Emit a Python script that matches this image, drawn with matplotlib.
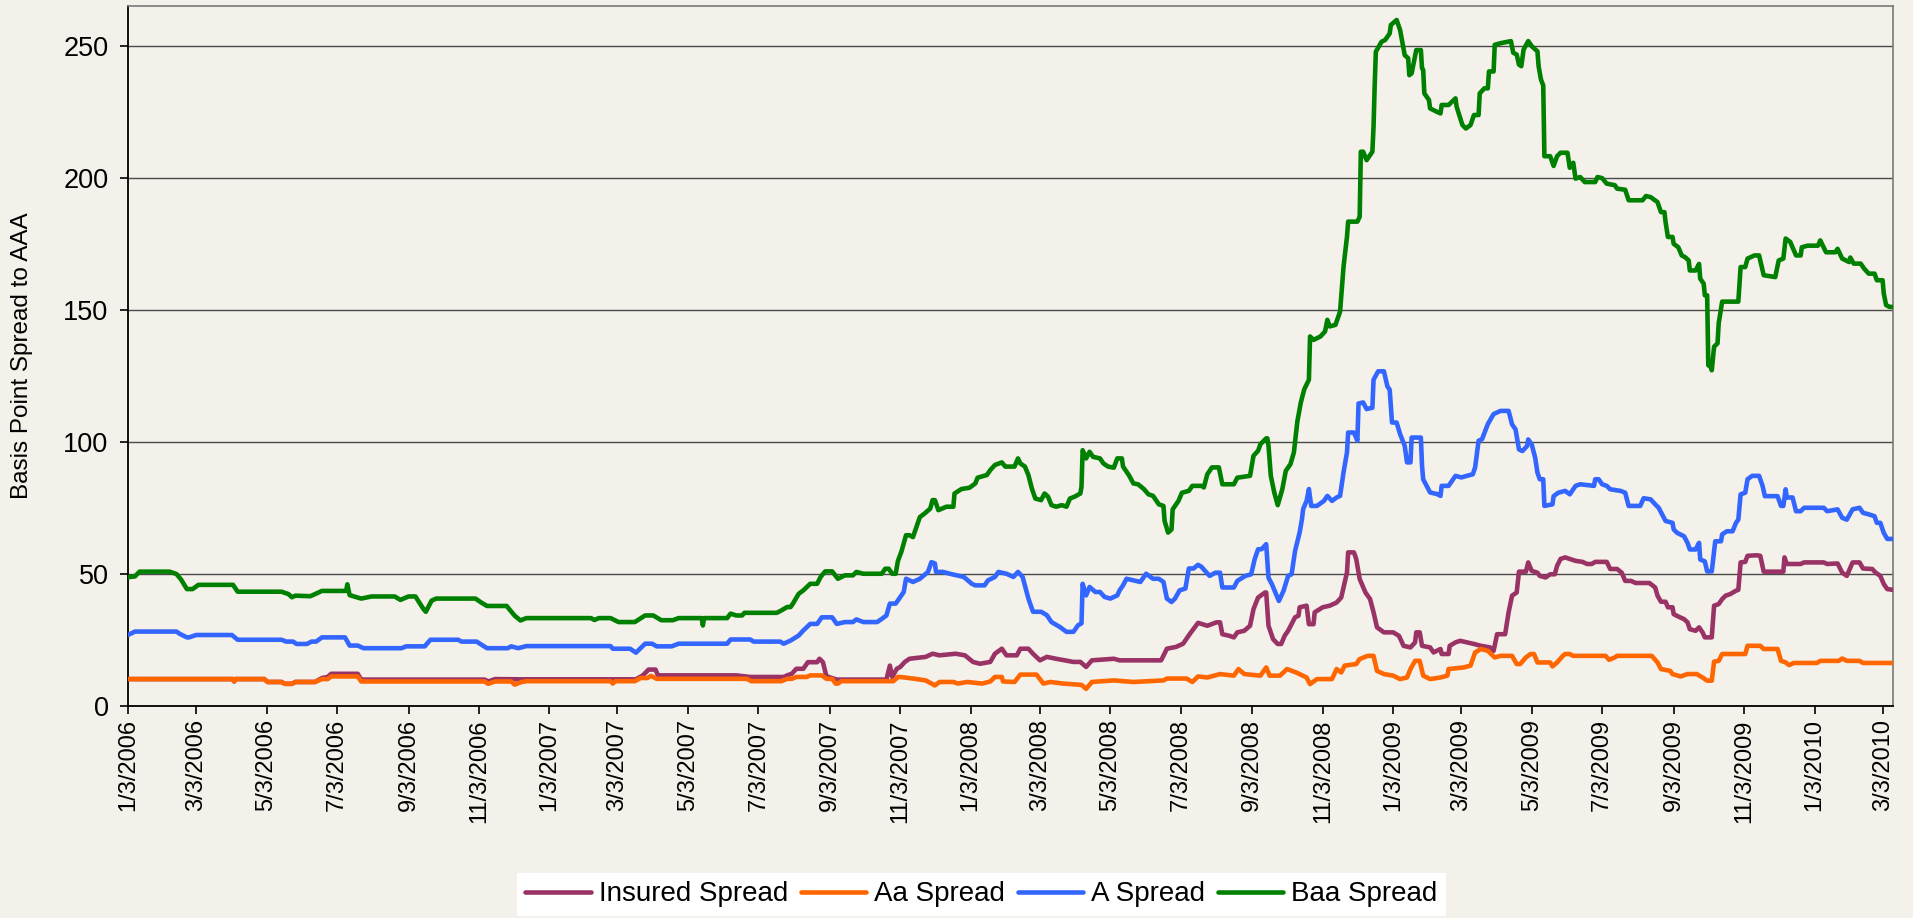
import matplotlib
matplotlib.use("Agg")
import matplotlib.pyplot as plt
import pandas as pd

plt.rcParams['font.family'] = ['Liberation Sans', 'DejaVu Sans']

# ---------------- data (basis points spread to AAA) ----------------
insured_dates = ['2006-01-03','2006-04-04','2006-04-05','2006-04-06','2006-05-01','2006-05-04','2006-05-16','2006-05-19','2006-05-25','2006-05-28',
 '2006-06-14','2006-06-20','2006-06-25','2006-06-28','2006-07-21','2006-07-24','2006-11-08','2006-11-11','2006-11-17','2006-12-09',
 '2007-03-19','2007-03-25','2007-03-30','2007-04-05','2007-04-07','2007-06-14','2007-06-26','2007-07-25','2007-07-28','2007-08-01',
 '2007-08-05','2007-08-11','2007-08-15','2007-08-23','2007-08-25','2007-08-28','2007-08-31','2007-09-09','2007-10-22','2007-10-25',
 '2007-10-27','2007-10-31','2007-11-03','2007-11-07','2007-11-11','2007-11-25','2007-12-01','2007-12-07','2007-12-21','2007-12-29',
 '2008-01-05','2008-01-11','2008-01-20','2008-01-24','2008-01-30','2008-02-03','2008-02-12','2008-02-15','2008-02-22','2008-02-26',
 '2008-03-03','2008-03-09','2008-03-17','2008-04-01','2008-04-07','2008-04-12','2008-04-17','2008-05-06','2008-05-11','2008-06-16',
 '2008-06-21','2008-06-29','2008-07-05','2008-07-11','2008-07-18','2008-07-26','2008-08-03','2008-08-06','2008-08-08','2008-08-14',
 '2008-08-18','2008-08-21','2008-08-27','2008-09-01','2008-09-04','2008-09-08','2008-09-14','2008-09-15','2008-09-17','2008-09-21',
 '2008-09-25','2008-09-28','2008-10-01','2008-10-04','2008-10-10','2008-10-13','2008-10-14','2008-10-20','2008-10-22','2008-10-26',
 '2008-10-27','2008-11-03','2008-11-09','2008-11-15','2008-11-19','2008-11-24','2008-11-25','2008-11-30','2008-12-02','2008-12-05',
 '2008-12-10','2008-12-14','2008-12-17','2008-12-20','2008-12-26','2009-01-03','2009-01-08','2009-01-12','2009-01-18','2009-01-22',
 '2009-01-23','2009-01-26','2009-01-28','2009-02-04','2009-02-07','2009-02-13','2009-02-14','2009-02-20','2009-02-21','2009-02-26',
 '2009-03-02','2009-03-14','2009-03-20','2009-03-28','2009-03-31','2009-04-03','2009-04-10','2009-04-13','2009-04-16','2009-04-20',
 '2009-04-22','2009-04-28','2009-04-30','2009-05-03','2009-05-08','2009-05-10','2009-05-15','2009-05-19','2009-05-23','2009-05-25',
 '2009-05-28','2009-06-01','2009-06-05','2009-06-10','2009-06-16','2009-06-20','2009-06-24','2009-06-27','2009-07-07','2009-07-10',
 '2009-07-16','2009-07-20','2009-07-23','2009-07-28','2009-08-01','2009-08-13','2009-08-18','2009-08-20','2009-08-23','2009-08-27',
 '2009-08-29','2009-09-02','2009-09-03','2009-09-07','2009-09-12','2009-09-15','2009-09-17','2009-09-22','2009-09-25','2009-09-28',
 '2009-09-30','2009-10-06','2009-10-08','2009-10-12','2009-10-15','2009-10-18','2009-10-22','2009-10-27','2009-10-29','2009-10-31',
 '2009-11-04','2009-11-06','2009-11-14','2009-11-17','2009-11-20','2009-12-07','2009-12-08','2009-12-10','2009-12-22','2009-12-25',
 '2010-01-11','2010-01-14','2010-01-23','2010-01-27','2010-01-31','2010-02-05','2010-02-11','2010-02-14','2010-02-22','2010-02-25',
 '2010-03-01','2010-03-04','2010-03-07','2010-03-12']
insured_values = [10.2,10.2,9.3,10.2,10.2,9.1,9.1,8.4,8.4,9.1,
 9.1,10.6,11.0,12.2,12.2,10.0,10.0,9.3,10.2,10.1,
 10.1,11.6,13.8,13.8,11.6,11.6,11.0,11.0,11.6,12.2,
 14.1,14.1,16.6,16.6,17.9,16.6,11.3,10.0,10.0,15.3,
 11.0,14.1,14.8,16.7,17.9,18.6,19.8,19.2,19.8,19.2,
 16.7,16.0,16.7,19.8,21.7,19.2,19.2,21.7,21.7,19.8,
 17.3,18.6,17.9,16.7,16.7,14.8,17.3,17.9,17.3,17.3,
 21.7,22.4,23.6,27.4,31.5,30.4,31.7,31.7,27.2,26.6,
 26.0,27.9,28.5,30.4,36.7,41.1,43.0,43.0,30.4,25.3,
 23.5,23.5,26.6,28.5,33.6,34.2,37.4,38.0,31.0,31.0,
 35.5,37.4,38.0,39.2,41.1,50.6,58.2,58.2,55.7,48.1,
 43.0,40.5,35.5,29.8,27.9,27.9,26.6,22.8,22.2,24.1,
 27.9,27.9,22.8,22.2,20.3,21.6,19.7,19.7,22.8,24.1,
 24.7,23.5,22.8,22.2,20.9,27.2,27.2,35.5,41.8,43.0,
 50.9,50.9,54.4,51.2,50.5,49.3,48.7,49.9,49.9,53.1,
 55.7,56.3,55.7,55.0,54.6,53.8,53.8,54.6,54.6,51.9,
 51.9,50.5,47.4,47.4,46.6,46.6,44.9,41.8,39.5,39.5,
 37.4,37.4,34.8,33.9,32.9,31.7,29.1,28.5,29.8,27.9,
 26.0,26.0,38.0,38.6,40.5,41.8,42.4,43.7,44.0,54.4,
 54.6,56.9,57.1,56.9,50.9,50.9,56.3,53.8,53.8,54.4,
 54.4,53.8,54.0,50.5,49.3,54.4,54.4,52.1,51.9,50.5,
 49.3,46.2,44.3,44.0]

aa_dates = ['2006-01-03','2006-04-04','2006-04-05','2006-04-06','2006-05-01','2006-05-04','2006-05-16','2006-05-19','2006-05-25','2006-05-28',
 '2006-06-14','2006-06-20','2006-06-25','2006-06-28','2006-07-21','2006-07-24','2006-11-08','2006-11-11','2006-11-17','2006-12-01',
 '2006-12-04','2006-12-10','2006-12-14','2007-02-25','2007-02-27','2007-03-01','2007-03-18','2007-03-23','2007-03-29','2007-04-01',
 '2007-04-06','2007-06-23','2007-06-27','2007-07-23','2007-07-28','2007-08-01','2007-08-05','2007-08-14','2007-08-17','2007-08-27',
 '2007-08-31','2007-09-05','2007-09-08','2007-09-10','2007-09-13','2007-10-28','2007-11-01','2007-11-03','2007-11-14','2007-11-25',
 '2007-12-03','2007-12-07','2007-12-19','2007-12-23','2007-12-31','2008-01-13','2008-01-20','2008-01-24','2008-01-30','2008-01-31',
 '2008-02-10','2008-02-15','2008-02-29','2008-03-06','2008-03-12','2008-03-23','2008-04-08','2008-04-12','2008-04-17','2008-05-06',
 '2008-05-23','2008-06-18','2008-06-21','2008-07-08','2008-07-13','2008-07-18','2008-07-26','2008-08-06','2008-08-18','2008-08-22',
 '2008-08-27','2008-09-10','2008-09-15','2008-09-18','2008-09-27','2008-10-03','2008-10-11','2008-10-20','2008-10-23','2008-10-29',
 '2008-11-11','2008-11-15','2008-11-19','2008-11-22','2008-12-02','2008-12-05','2008-12-12','2008-12-17','2008-12-20','2008-12-26',
 '2009-01-03','2009-01-09','2009-01-15','2009-01-18','2009-01-22','2009-01-26','2009-01-29','2009-02-04','2009-02-13','2009-02-19',
 '2009-02-20','2009-03-05','2009-03-11','2009-03-15','2009-03-20','2009-03-26','2009-04-01','2009-04-06','2009-04-16','2009-04-20',
 '2009-04-23','2009-04-28','2009-05-02','2009-05-05','2009-05-08','2009-05-19','2009-05-21','2009-05-25','2009-05-30','2009-06-01',
 '2009-06-05','2009-06-08','2009-07-06','2009-07-09','2009-07-14','2009-07-16','2009-08-15','2009-08-20','2009-08-23','2009-08-31',
 '2009-09-02','2009-09-09','2009-09-15','2009-09-23','2009-09-28','2009-10-02','2009-10-06','2009-10-08','2009-10-12','2009-10-15',
 '2009-11-04','2009-11-06','2009-11-17','2009-11-20','2009-12-02','2009-12-05','2009-12-09','2009-12-12','2009-12-16','2010-01-05',
 '2010-01-08','2010-01-24','2010-01-27','2010-01-31','2010-02-11','2010-02-14','2010-03-12']
aa_values = [10.2,10.2,9.3,10.2,10.2,9.1,9.1,8.4,8.4,9.1,
 9.1,10.2,10.2,11.2,11.2,9.3,9.3,8.4,9.3,9.3,
 8.1,9.1,9.4,9.4,8.5,9.4,9.4,10.6,10.6,11.4,
 10.3,10.3,9.4,9.4,10.3,10.3,11.0,11.0,11.6,11.6,
 10.3,10.3,8.5,8.5,9.4,9.4,11.0,11.0,10.4,9.7,
 7.8,9.1,9.1,8.5,9.1,8.5,9.3,11.0,11.0,9.3,
 9.1,11.9,11.9,8.5,9.1,8.5,8.0,6.5,9.1,9.7,
 9.1,9.7,10.4,10.4,9.1,11.2,10.8,12.1,11.5,14.0,
 12.1,11.5,14.6,11.5,11.5,14.0,12.7,10.8,8.3,10.2,
 10.2,14.0,12.7,15.3,15.9,17.8,19.0,19.0,13.3,12.1,
 11.5,10.2,10.8,14.0,17.1,17.1,11.5,10.2,10.8,11.5,
 14.0,14.6,15.3,20.3,21.6,20.9,18.4,19.0,19.0,15.9,
 15.9,18.4,19.7,19.7,16.5,16.5,15.0,16.5,19.0,19.7,
 19.7,19.0,19.0,17.5,18.4,19.0,19.0,16.5,14.0,13.3,
 12.1,11.2,12.1,12.1,10.8,9.6,9.6,16.8,17.1,19.7,
 19.7,22.8,22.8,21.6,21.6,17.1,16.5,15.5,16.3,16.3,
 17.1,17.1,18.0,17.1,17.1,16.3,16.3]

a_dates = ['2006-01-03','2006-01-09','2006-02-14','2006-02-17','2006-02-23','2006-02-25','2006-03-03','2006-04-03','2006-04-08','2006-05-16',
 '2006-05-20','2006-05-26','2006-05-29','2006-06-07','2006-06-11','2006-06-15','2006-06-20','2006-07-10','2006-07-14','2006-07-21',
 '2006-07-26','2006-08-28','2006-09-01','2006-09-17','2006-09-22','2006-10-16','2006-10-19','2006-11-01','2006-11-10','2006-11-28',
 '2006-12-01','2006-12-07','2006-12-14','2007-02-25','2007-02-27','2007-03-14','2007-03-19','2007-03-27','2007-04-02','2007-04-06',
 '2007-04-19','2007-04-25','2007-06-06','2007-06-09','2007-06-26','2007-06-29','2007-07-22','2007-07-25','2007-07-31','2007-08-07',
 '2007-08-11','2007-08-17','2007-08-23','2007-08-27','2007-09-05','2007-09-09','2007-09-16','2007-09-23','2007-09-26','2007-10-02',
 '2007-10-14','2007-10-18','2007-10-22','2007-10-25','2007-10-30','2007-11-01','2007-11-03','2007-11-06','2007-11-08','2007-11-14',
 '2007-11-20','2007-11-27','2007-11-30','2007-12-03','2007-12-04','2007-12-10','2007-12-16','2007-12-28','2008-01-04','2008-01-07',
 '2008-01-15','2008-01-18','2008-01-24','2008-01-27','2008-02-03','2008-02-09','2008-02-13','2008-02-17','2008-02-22','2008-02-26',
 '2008-03-04','2008-03-09','2008-03-13','2008-03-20','2008-03-26','2008-04-01','2008-04-05','2008-04-08','2008-04-09','2008-04-12',
 '2008-04-15','2008-04-20','2008-04-24','2008-04-28','2008-05-03','2008-05-09','2008-05-11','2008-05-14','2008-05-17','2008-05-23',
 '2008-05-29','2008-06-03','2008-06-09','2008-06-14','2008-06-18','2008-06-21','2008-06-25','2008-06-28','2008-07-02','2008-07-07',
 '2008-07-10','2008-07-14','2008-07-18','2008-07-21','2008-07-24','2008-07-28','2008-08-02','2008-08-06','2008-08-08','2008-08-18',
 '2008-08-21','2008-08-28','2008-09-02','2008-09-05','2008-09-08','2008-09-11','2008-09-15','2008-09-17','2008-09-20','2008-09-26',
 '2008-09-30','2008-10-04','2008-10-07','2008-10-10','2008-10-14','2008-10-16','2008-10-17','2008-10-20','2008-10-22','2008-10-24',
 '2008-10-29','2008-11-04','2008-11-07','2008-11-11','2008-11-15','2008-11-18','2008-11-21','2008-11-24','2008-11-25','2008-11-30',
 '2008-12-03','2008-12-04','2008-12-08','2008-12-11','2008-12-16','2008-12-17','2008-12-21','2008-12-26','2008-12-29','2008-12-31',
 '2009-01-02','2009-01-06','2009-01-09','2009-01-13','2009-01-15','2009-01-18','2009-01-19','2009-01-27','2009-01-28','2009-01-29',
 '2009-02-01','2009-02-04','2009-02-10','2009-02-13','2009-02-14','2009-02-20','2009-02-26','2009-03-03','2009-03-08','2009-03-13',
 '2009-03-15','2009-03-18','2009-03-21','2009-03-26','2009-03-31','2009-04-06','2009-04-13','2009-04-16','2009-04-19','2009-04-22',
 '2009-04-25','2009-04-29','2009-04-30','2009-05-03','2009-05-06','2009-05-08','2009-05-10','2009-05-13','2009-05-14','2009-05-21',
 '2009-05-22','2009-05-26','2009-06-01','2009-06-05','2009-06-10','2009-06-14','2009-06-26','2009-06-27','2009-06-30','2009-07-03',
 '2009-07-07','2009-07-10','2009-07-19','2009-07-23','2009-07-26','2009-08-05','2009-08-08','2009-08-14','2009-08-18','2009-08-21',
 '2009-08-24','2009-08-27','2009-09-02','2009-09-03','2009-09-06','2009-09-12','2009-09-15','2009-09-17','2009-09-22','2009-09-25',
 '2009-09-26','2009-09-30','2009-10-02','2009-10-06','2009-10-09','2009-10-14','2009-10-15','2009-10-19','2009-10-24','2009-10-27',
 '2009-10-29','2009-10-31','2009-11-04','2009-11-06','2009-11-10','2009-11-16','2009-11-19','2009-11-21','2009-12-02','2009-12-05',
 '2009-12-07','2009-12-09','2009-12-10','2009-12-15','2009-12-18','2009-12-22','2009-12-25','2010-01-11','2010-01-14','2010-01-23',
 '2010-01-27','2010-01-31','2010-02-05','2010-02-11','2010-02-14','2010-02-19','2010-02-24','2010-02-26','2010-03-01','2010-03-04',
 '2010-03-07','2010-03-12']
a_values = [26.9,28.2,28.2,27.3,26.0,26.0,26.9,26.9,25.1,25.1,
 24.4,24.4,23.5,23.5,24.4,24.4,26.0,26.0,22.9,22.9,
 21.9,21.9,22.6,22.6,25.1,25.1,24.4,24.4,21.9,21.9,
 22.6,21.9,22.7,22.7,21.7,21.7,20.2,23.6,23.6,22.6,
 22.6,23.6,23.6,25.2,25.2,24.4,24.4,23.6,24.8,26.7,
 28.6,31.1,31.1,33.6,33.6,31.1,31.8,31.8,32.8,31.8,
 31.8,33.0,34.3,38.8,38.8,40.0,41.3,43.2,48.2,47.0,
 48.2,50.8,54.5,54.0,50.8,50.8,50.1,48.9,46.3,45.7,
 45.7,47.6,48.9,50.8,50.1,48.9,50.8,48.9,40.7,35.7,
 35.7,34.4,31.8,30.0,28.1,28.1,30.6,31.3,46.3,41.9,
 45.1,43.2,43.2,41.3,40.7,41.9,43.8,45.7,48.2,47.6,
 47.0,50.1,48.2,48.2,47.0,40.7,39.4,40.7,43.8,44.5,
 52.1,52.1,53.5,52.7,51.2,49.3,50.5,50.5,44.9,44.9,
 47.4,49.3,49.9,55.6,59.4,59.4,61.3,48.6,46.1,39.8,
 43.6,49.3,49.9,58.7,65.8,70.8,74.6,77.7,82.2,75.8,
 75.8,77.7,79.6,77.7,79.0,79.6,88.5,96.1,103.6,103.6,
 100.5,114.6,115.0,112.5,113.0,123.6,126.8,126.8,121.1,119.8,
 107.4,107.4,103.0,98.6,92.3,92.3,101.7,101.7,91.0,85.9,
 83.4,80.9,80.3,79.6,83.4,83.4,87.2,86.6,87.2,87.8,
 90.4,100.5,101.1,106.8,110.6,111.8,111.8,106.7,104.8,97.2,
 96.6,98.5,101.0,99.1,94.1,88.4,85.9,85.9,75.8,76.4,
 79.5,80.8,81.5,80.2,83.4,84.0,83.4,85.9,85.9,84.0,
 83.4,82.1,81.5,80.8,75.8,75.8,78.7,78.3,76.4,75.1,
 72.6,70.1,69.4,66.9,65.6,64.3,61.8,59.3,59.3,61.8,
 55.5,54.8,51.0,51.0,62.4,62.4,65.0,66.2,66.2,69.4,
 70.6,80.2,80.8,85.9,87.2,87.2,83.4,79.5,79.5,75.8,
 75.8,82.1,79.0,79.0,73.8,73.8,75.1,75.1,73.8,74.5,
 71.3,70.6,74.5,75.1,73.2,72.6,71.9,69.4,69.4,65.6,
 63.3,63.3]

baa_dates = ['2006-01-03','2006-01-09','2006-01-13','2006-02-08','2006-02-14','2006-02-18','2006-02-23','2006-02-28','2006-03-05','2006-04-04',
 '2006-04-08','2006-05-16','2006-05-22','2006-05-25','2006-05-28','2006-06-10','2006-06-14','2006-06-20','2006-07-11','2006-07-12',
 '2006-07-14','2006-07-24','2006-08-02','2006-08-22','2006-08-27','2006-09-03','2006-09-09','2006-09-16','2006-09-18','2006-09-23',
 '2006-09-27','2006-10-31','2006-11-05','2006-11-10','2006-11-27','2006-12-04','2006-12-09','2006-12-14','2007-02-08','2007-02-11',
 '2007-02-15','2007-02-25','2007-03-04','2007-03-18','2007-03-27','2007-04-03','2007-04-10','2007-04-20','2007-04-25','2007-05-15',
 '2007-05-16','2007-05-17','2007-06-06','2007-06-09','2007-06-14','2007-06-19','2007-06-21','2007-07-19','2007-07-23','2007-07-28',
 '2007-07-31','2007-08-02','2007-08-07','2007-08-11','2007-08-17','2007-08-23','2007-08-26','2007-08-30','2007-09-05','2007-09-10',
 '2007-09-16','2007-09-23','2007-09-26','2007-10-02','2007-10-18','2007-10-21','2007-10-24','2007-10-27','2007-10-30','2007-11-01',
 '2007-11-04','2007-11-08','2007-11-11','2007-11-14','2007-11-17','2007-11-20','2007-11-24','2007-11-29','2007-12-01','2007-12-03',
 '2007-12-06','2007-12-13','2007-12-19','2007-12-20','2007-12-26','2008-01-02','2008-01-07','2008-01-09','2008-01-17','2008-01-20',
 '2008-01-24','2008-01-30','2008-02-02','2008-02-10','2008-02-13','2008-02-15','2008-02-19','2008-02-22','2008-02-25','2008-02-28',
 '2008-03-04','2008-03-07','2008-03-10','2008-03-13','2008-03-17','2008-03-22','2008-03-26','2008-03-29','2008-04-02','2008-04-07',
 '2008-04-08','2008-04-09','2008-04-12','2008-04-15','2008-04-18','2008-04-24','2008-04-27','2008-05-01','2008-05-06','2008-05-09',
 '2008-05-13','2008-05-14','2008-05-19','2008-05-23','2008-05-27','2008-06-01','2008-06-05','2008-06-09','2008-06-14','2008-06-18',
 '2008-06-19','2008-06-22','2008-06-25','2008-06-26','2008-07-01','2008-07-04','2008-07-10','2008-07-13','2008-07-21','2008-07-23',
 '2008-07-26','2008-07-30','2008-08-05','2008-08-08','2008-08-18','2008-08-21','2008-09-01','2008-09-04','2008-09-08','2008-09-10',
 '2008-09-15','2008-09-16','2008-09-17','2008-09-19','2008-09-22','2008-09-25','2008-09-29','2008-10-02','2008-10-06','2008-10-09',
 '2008-10-12','2008-10-15','2008-10-18','2008-10-22','2008-10-23','2008-10-26','2008-11-01','2008-11-05','2008-11-07','2008-11-09',
 '2008-11-14','2008-11-18','2008-11-21','2008-11-24','2008-11-25','2008-12-03','2008-12-05','2008-12-06','2008-12-08','2008-12-11',
 '2008-12-16','2008-12-17','2008-12-18','2008-12-19','2008-12-24','2008-12-27','2008-12-31','2009-01-01','2009-01-06','2009-01-09',
 '2009-01-13','2009-01-16','2009-01-17','2009-01-19','2009-01-23','2009-01-27','2009-01-28','2009-01-29','2009-01-30','2009-02-03',
 '2009-02-04','2009-02-10','2009-02-13','2009-02-14','2009-02-20','2009-02-26','2009-02-27','2009-03-04','2009-03-07','2009-03-11',
 '2009-03-14','2009-03-18','2009-03-19','2009-03-23','2009-03-26','2009-03-27','2009-03-31','2009-04-01','2009-04-06','2009-04-15',
 '2009-04-17','2009-04-20','2009-04-22','2009-04-24','2009-04-26','2009-04-30','2009-05-03','2009-05-08','2009-05-09','2009-05-11',
 '2009-05-13','2009-05-14','2009-05-19','2009-05-22','2009-05-25','2009-05-28','2009-06-03','2009-06-05','2009-06-08','2009-06-10',
 '2009-06-14','2009-06-18','2009-06-27','2009-06-29','2009-07-03','2009-07-07','2009-07-14','2009-07-16','2009-07-23','2009-07-26',
 '2009-08-07','2009-08-10','2009-08-14','2009-08-20','2009-08-23','2009-08-26','2009-08-27','2009-08-29','2009-09-02','2009-09-03',
 '2009-09-07','2009-09-10','2009-09-13','2009-09-16','2009-09-17','2009-09-22','2009-09-25','2009-09-26','2009-09-29','2009-09-30',
 '2009-10-02','2009-10-03','2009-10-05','2009-10-06','2009-10-08','2009-10-11','2009-10-12','2009-10-15','2009-10-29','2009-10-31',
 '2009-11-04','2009-11-06','2009-11-12','2009-11-16','2009-11-20','2009-11-30','2009-12-03','2009-12-07','2009-12-09','2009-12-13',
 '2009-12-18','2009-12-22','2009-12-23','2009-12-28','2010-01-06','2010-01-08','2010-01-13','2010-01-21','2010-01-23','2010-01-27',
 '2010-02-02','2010-02-03','2010-02-06','2010-02-12','2010-02-15','2010-02-19','2010-02-24','2010-02-26','2010-03-03','2010-03-04',
 '2010-03-06','2010-03-09','2010-03-12']
baa_values = [48.8,49.1,50.9,50.9,50.0,47.9,44.3,44.3,45.9,45.9,
 43.3,43.3,42.4,41.2,41.8,41.6,42.4,43.6,43.6,46.1,
 42.0,40.7,41.5,41.5,40.2,41.5,41.5,36.7,35.7,39.9,
 40.7,40.7,39.2,37.9,37.9,34.2,32.4,33.3,33.3,32.6,
 33.3,33.3,31.8,31.8,34.3,34.3,32.5,32.5,33.3,33.3,
 30.5,33.3,33.3,35.0,34.3,34.3,35.3,35.3,36.2,37.5,
 37.5,38.8,42.5,43.8,46.3,46.3,48.9,51.0,51.0,48.2,
 49.5,49.5,50.8,50.1,50.1,52.0,52.0,50.1,50.1,55.0,
 58.5,64.7,64.7,64.0,67.8,71.6,72.9,74.8,78.0,78.0,
 74.2,75.5,75.5,80.5,82.2,82.7,84.3,86.5,87.5,89.4,
 91.3,92.3,90.7,90.7,93.8,91.9,90.7,87.5,82.4,78.6,
 78.0,80.5,79.3,76.1,75.5,76.1,75.5,78.6,79.3,80.5,
 83.0,96.9,93.8,96.3,94.4,93.8,91.9,90.7,90.3,93.8,
 93.8,90.7,87.5,84.3,84.0,82.2,80.2,79.6,76.4,75.8,
 70.1,65.7,66.9,74.5,77.7,80.8,81.5,83.4,83.4,82.8,
 87.8,90.4,90.4,84.0,84.0,86.5,87.2,94.8,96.7,99.2,
 101.4,101.4,98.6,87.2,80.9,76.1,82.2,89.1,91.6,96.1,
 107.8,115.0,120.0,123.6,140.0,138.7,140.0,141.9,146.3,143.8,
 144.4,149.4,166.4,177.8,183.5,183.5,185.4,210.0,210.0,206.8,
 210.0,219.5,235.3,247.9,251.7,252.3,254.8,258.0,259.9,256.1,
 246.6,245.4,239.0,239.7,248.5,248.5,241.6,241.0,232.1,229.6,
 226.4,225.1,224.5,227.7,227.7,230.2,227.0,220.1,218.8,220.1,
 223.9,223.9,232.1,234.0,234.0,240.4,240.4,250.5,251.1,251.9,
 247.5,246.8,243.0,242.4,248.7,251.9,250.0,248.0,242.4,237.4,
 235.1,208.3,208.3,204.6,208.3,209.6,209.6,203.9,205.8,199.8,
 200.4,198.5,198.5,200.4,200.0,197.9,197.3,196.0,195.6,191.6,
 191.6,193.2,192.8,190.9,187.1,187.1,183.3,177.7,177.7,175.1,
 173.8,170.7,170.0,168.8,165.0,165.0,167.5,161.9,160.0,155.6,
 155.6,129.1,128.5,127.2,136.1,137.4,145.0,153.2,153.2,166.3,
 166.3,169.5,170.7,170.7,163.2,162.5,168.8,169.5,177.1,175.8,
 170.7,170.7,173.8,174.4,174.4,176.4,171.9,171.9,173.2,169.5,
 168.2,169.9,167.6,167.6,165.7,163.8,163.8,161.3,161.3,156.3,
 151.9,151.2,151.2]

series_names = ['Insured Spread', 'Aa Spread', 'A Spread', 'Baa Spread']
series_colors = ['#993366', '#FF6600', '#3366FF', '#008000']
y_ticks = [0, 50, 100, 150, 200, 250]
x_start, x_end = '2006-01-03', '2010-03-12'
y_label = 'Basis Point Spread to AAA'

# ---------------- figure ----------------
BG = '#F4F0EA'
W, H = 1913, 918
fig = plt.figure(figsize=(W / 100, H / 100), dpi=100, facecolor=BG)
ax = fig.add_axes([128 / W, 1 - 706 / H, (1893 - 128) / W, (706 - 6) / H])
ax.set_facecolor(BG)

all_series = [(insured_dates, insured_values), (aa_dates, aa_values),
              (a_dates, a_values), (baa_dates, baa_values)]
handles = []
for (d, v), name, col in zip(all_series, series_names, series_colors):
    h, = ax.plot(pd.to_datetime(d), v, color=col, lw=3.3, label=name,
                 solid_joinstyle='round', solid_capstyle='round', zorder=3)
    handles.append(h)

ax.set_xlim(pd.Timestamp(x_start), pd.Timestamp(x_end))
ax.set_ylim(0, 265.2)
ax.set_yticks(y_ticks)
ax.yaxis.grid(True, color='#4a4a4a', lw=1.0, zorder=1)
ax.set_axisbelow(True)

ticks = [pd.Timestamp(x_start) + pd.DateOffset(months=2 * i) for i in range(26)]
ax.set_xticks(ticks)
ax.set_xticklabels([f"{t.month}/{t.day}/{t.year}" for t in ticks], rotation=90)

ax.tick_params(axis='y', labelsize=19.5, length=6, width=1.2, pad=8, direction='out', colors='black')
ax.tick_params(axis='x', labelsize=17, length=5.5, width=1.2, pad=4, direction='out', colors='black')

for s in ['left', 'bottom']:
    ax.spines[s].set_color('black')
    ax.spines[s].set_linewidth(1.3)
for s in ['top', 'right']:
    ax.spines[s].set_color('#7a7a7a')
    ax.spines[s].set_linewidth(1.2)

ax.set_ylabel(y_label, fontsize=17.5)
ax.yaxis.set_label_coords(-0.054, 0.5)

leg = fig.legend(handles, series_names, loc='upper center',
                 bbox_to_anchor=(981.5 / W, 1 - 873 / H), ncol=4, frameon=True,
                 facecolor='white', edgecolor='none', fancybox=False, fontsize=20,
                 handlelength=2.35, handletextpad=0.3, columnspacing=0.45,
                 borderpad=0.3, borderaxespad=0)
leg.get_frame().set_alpha(1.0)

fig.savefig('out.png', dpi=100, facecolor=BG)
